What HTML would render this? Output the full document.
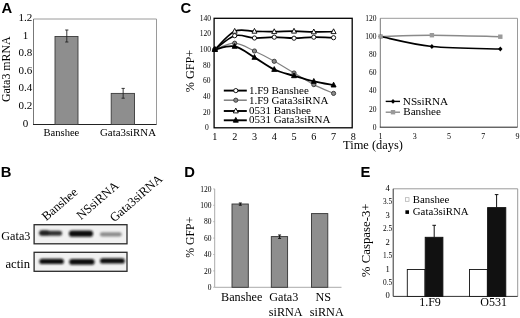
<!DOCTYPE html>
<html><head><meta charset="utf-8"><title>Figure</title>
<style>html,body{margin:0;padding:0;background:#fff}svg{display:block}</style>
</head><body>
<svg width="520" height="318" viewBox="0 0 520 318">
<rect width="520" height="318" fill="#fff"/>
<g font-family="Liberation Sans, sans-serif" font-weight="bold" font-size="14.8" fill="#000">
<text x="1.6" y="12.6" font-size="14.8" text-anchor="start" >A</text>
<text x="0.8" y="177.1" font-size="14.8" text-anchor="start" >B</text>
<text x="180.4" y="12.6" font-size="14.8" text-anchor="start" >C</text>
<text x="184.2" y="177.1" font-size="14.8" text-anchor="start" >D</text>
<text x="360.6" y="176.8" font-size="14.8" text-anchor="start" >E</text>
</g>
<g font-family="Liberation Serif, serif" fill="#000">
<path d="M33.5 19H156.5V124.5" fill="none" stroke="#9a9a9a" stroke-width="1"/>
<path d="M33.5 19V124.5" fill="none" stroke="#777" stroke-width="1"/>
<path d="M33.0 124.5H156.5" fill="none" stroke="#222" stroke-width="1"/>
<text x="25.4" y="126.6" font-size="11" text-anchor="middle" >0</text>
<text x="25.4" y="109.02" font-size="11" text-anchor="middle" >0.2</text>
<text x="25.4" y="91.43" font-size="11" text-anchor="middle" >0.4</text>
<text x="25.4" y="73.85" font-size="11" text-anchor="middle" >0.6</text>
<text x="25.4" y="56.27" font-size="11" text-anchor="middle" >0.8</text>
<text x="25.4" y="38.68" font-size="11" text-anchor="middle" >1</text>
<text x="25.4" y="21.1" font-size="11" text-anchor="middle" >1.2</text>
<rect x="55" y="36.5" width="23" height="88.0" fill="#8e8e8e" stroke="#3a3a3a" stroke-width="0.9"/>
<path d="M66.8 30V42M65.2 30h3.2M65.2 42h3.2" stroke="#222" stroke-width="0.9" fill="none"/>
<rect x="111.2" y="93.4" width="23.299999999999997" height="31.099999999999994" fill="#8e8e8e" stroke="#3a3a3a" stroke-width="0.9"/>
<path d="M123.14999999999999 88.4V98.2M121.55 88.4h3.2M121.55 98.2h3.2" stroke="#222" stroke-width="0.9" fill="none"/>
<text x="61.4" y="136.2" font-size="11" text-anchor="middle" textLength="35.8" lengthAdjust="spacingAndGlyphs">Banshee</text>
<text x="128" y="136.2" font-size="11" text-anchor="middle" textLength="56" lengthAdjust="spacingAndGlyphs">Gata3siRNA</text>
<text transform="translate(10.2,69.2) rotate(-90)" font-size="12" text-anchor="middle" textLength="65.7" lengthAdjust="spacingAndGlyphs">Gata3 mRNA</text>
<text transform="translate(46.2,221.3) rotate(-41)" font-size="12.6">Banshee</text>
<text transform="translate(81,220.3) rotate(-41)" font-size="12.6">NSsiRNA</text>
<text transform="translate(114.2,222.6) rotate(-41)" font-size="12.6">Gata3siRNA</text>
<text x="1.3" y="240" font-size="12.2" text-anchor="start" >Gata3</text>
<text x="5.5" y="267.8" font-size="12.4" text-anchor="start" textLength="24.6" lengthAdjust="spacingAndGlyphs">actin</text>
<defs><filter id="bl" x="-20%" y="-100%" width="140%" height="300%"><feGaussianBlur stdDeviation="0.9"/></filter></defs>
<rect x="34.1" y="224.7" width="92.90" height="19.10" fill="#f1f1f1" stroke="#2a2a2a" stroke-width="1.3"/>
<rect x="34.1" y="252.3" width="92.90" height="19.00" fill="#f1f1f1" stroke="#2a2a2a" stroke-width="1.3"/>
<g filter="url(#bl)" stroke-linecap="round" fill="none">
<path d="M41.8 233.2H59.6" stroke="#333" stroke-width="5"/><path d="M41.8 232.8H47" stroke="#222" stroke-width="5.2"/>
<path d="M72 233.7H90" stroke="#111" stroke-width="6.2"/>
<path d="M102 234.4H119.6" stroke="#8a8a8a" stroke-width="4.2"/>
<path d="M42 261.4H61.2" stroke="#111" stroke-width="5.4"/>
<path d="M72 261.9H91.8" stroke="#111" stroke-width="5.6"/>
<path d="M102.6 260.9H122.2" stroke="#111" stroke-width="5.2"/>
</g>
<text x="208.8" y="130.3" font-size="7.5" text-anchor="end" >0</text>
<text x="210.6" y="114.66" font-size="7.5" text-anchor="end" >20</text>
<text x="210.6" y="99.01" font-size="7.5" text-anchor="end" >40</text>
<text x="210.6" y="83.37" font-size="7.5" text-anchor="end" >60</text>
<text x="210.6" y="67.73" font-size="7.5" text-anchor="end" >80</text>
<text x="211" y="52.09" font-size="7.5" text-anchor="end" >100</text>
<text x="211" y="36.44" font-size="7.5" text-anchor="end" >120</text>
<text x="211" y="20.8" font-size="7.5" text-anchor="end" >140</text>
<text x="214.9" y="139.6" font-size="10.2" text-anchor="middle" >1</text>
<text x="234.68" y="139.6" font-size="10.2" text-anchor="middle" >2</text>
<text x="254.46" y="139.6" font-size="10.2" text-anchor="middle" >3</text>
<text x="274.24" y="139.6" font-size="10.2" text-anchor="middle" >4</text>
<text x="294.02" y="139.6" font-size="10.2" text-anchor="middle" >5</text>
<text x="313.8" y="139.6" font-size="10.2" text-anchor="middle" >6</text>
<text x="333.58" y="139.6" font-size="10.2" text-anchor="middle" >7</text>
<text x="353.36" y="139.6" font-size="10.2" text-anchor="middle" >8</text>
<path d="M214.90 49.50 C218.20 48.45 228.09 42.95 234.68 43.20 C241.27 43.45 247.87 47.98 254.46 51.00 C261.05 54.02 267.65 57.63 274.24 61.30 C280.83 64.97 287.43 69.12 294.02 73.00 C300.61 76.88 307.21 81.20 313.80 84.60 C320.39 88.00 330.28 91.93 333.58 93.40" fill="none" stroke="#808080" stroke-width="1.2"/>
<path d="M214.90 49.50 C218.20 47.20 228.09 37.62 234.68 35.70 C241.27 33.78 247.87 37.75 254.46 38.00 C261.05 38.25 267.65 37.17 274.24 37.20 C280.83 37.23 287.43 38.20 294.02 38.20 C300.61 38.20 307.21 37.28 313.80 37.20 C320.39 37.12 330.28 37.62 333.58 37.70" fill="none" stroke="#000" stroke-width="1.7"/>
<path d="M214.90 49.50 C218.20 46.47 228.09 34.33 234.68 31.30 C241.27 28.27 247.87 31.23 254.46 31.30 C261.05 31.37 267.65 31.72 274.24 31.70 C280.83 31.68 287.43 31.17 294.02 31.20 C300.61 31.23 307.21 31.82 313.80 31.90 C320.39 31.98 330.28 31.73 333.58 31.70" fill="none" stroke="#000" stroke-width="1.7"/>
<path d="M214.90 49.50 C218.20 48.98 228.09 45.08 234.68 46.40 C241.27 47.72 247.87 53.55 254.46 57.40 C261.05 61.25 267.65 66.43 274.24 69.50 C280.83 72.57 287.43 73.82 294.02 75.80 C300.61 77.78 307.21 79.85 313.80 81.40 C320.39 82.95 330.28 84.48 333.58 85.10" fill="none" stroke="#000" stroke-width="1.9"/>
<circle cx="214.90" cy="49.50" r="2.1" fill="#8a8a8a" stroke="#333" stroke-width="0.9"/>
<circle cx="234.68" cy="43.20" r="2.1" fill="#8a8a8a" stroke="#333" stroke-width="0.9"/>
<circle cx="254.46" cy="51.00" r="2.1" fill="#8a8a8a" stroke="#333" stroke-width="0.9"/>
<circle cx="274.24" cy="61.30" r="2.1" fill="#8a8a8a" stroke="#333" stroke-width="0.9"/>
<circle cx="294.02" cy="73.00" r="2.1" fill="#8a8a8a" stroke="#333" stroke-width="0.9"/>
<circle cx="313.80" cy="84.60" r="2.1" fill="#8a8a8a" stroke="#333" stroke-width="0.9"/>
<circle cx="333.58" cy="93.40" r="2.1" fill="#8a8a8a" stroke="#333" stroke-width="0.9"/>
<circle cx="214.90" cy="49.50" r="2.1" fill="#fff" stroke="#000" stroke-width="0.9"/>
<circle cx="234.68" cy="35.70" r="2.1" fill="#fff" stroke="#000" stroke-width="0.9"/>
<circle cx="254.46" cy="38.00" r="2.1" fill="#fff" stroke="#000" stroke-width="0.9"/>
<circle cx="274.24" cy="37.20" r="2.1" fill="#fff" stroke="#000" stroke-width="0.9"/>
<circle cx="294.02" cy="38.20" r="2.1" fill="#fff" stroke="#000" stroke-width="0.9"/>
<circle cx="313.80" cy="37.20" r="2.1" fill="#fff" stroke="#000" stroke-width="0.9"/>
<circle cx="333.58" cy="37.70" r="2.1" fill="#fff" stroke="#000" stroke-width="0.9"/>
<path d="M214.90 46.60L217.40 51.40H212.40Z" fill="#fff" stroke="#000" stroke-width="0.9"/>
<path d="M234.68 28.40L237.18 33.20H232.18Z" fill="#fff" stroke="#000" stroke-width="0.9"/>
<path d="M254.46 28.40L256.96 33.20H251.96Z" fill="#fff" stroke="#000" stroke-width="0.9"/>
<path d="M274.24 28.80L276.74 33.60H271.74Z" fill="#fff" stroke="#000" stroke-width="0.9"/>
<path d="M294.02 28.30L296.52 33.10H291.52Z" fill="#fff" stroke="#000" stroke-width="0.9"/>
<path d="M313.80 29.00L316.30 33.80H311.30Z" fill="#fff" stroke="#000" stroke-width="0.9"/>
<path d="M333.58 28.80L336.08 33.60H331.08Z" fill="#fff" stroke="#000" stroke-width="0.9"/>
<path d="M214.90 46.60L217.40 51.40H212.40Z" fill="#000" stroke="#000" stroke-width="0.9"/>
<path d="M234.68 43.50L237.18 48.30H232.18Z" fill="#000" stroke="#000" stroke-width="0.9"/>
<path d="M254.46 54.50L256.96 59.30H251.96Z" fill="#000" stroke="#000" stroke-width="0.9"/>
<path d="M274.24 66.60L276.74 71.40H271.74Z" fill="#000" stroke="#000" stroke-width="0.9"/>
<path d="M294.02 72.90L296.52 77.70H291.52Z" fill="#000" stroke="#000" stroke-width="0.9"/>
<path d="M313.80 78.50L316.30 83.30H311.30Z" fill="#000" stroke="#000" stroke-width="0.9"/>
<path d="M333.58 82.20L336.08 87.00H331.08Z" fill="#000" stroke="#000" stroke-width="0.9"/>
<rect x="214.1" y="18.3" width="138.1" height="109.5" fill="none" stroke="#000" stroke-width="1.3"/>
<path d="M223.8 90.6H246.8" stroke="#000" stroke-width="1.9"/>
<circle cx="235.80" cy="90.60" r="2.1" fill="#fff" stroke="#000" stroke-width="0.9"/>
<text x="248.9" y="94.1" font-size="11" text-anchor="start" >1.F9 Banshee</text>
<path d="M223.8 100.2H246.8" stroke="#777" stroke-width="1.4"/>
<circle cx="235.80" cy="100.20" r="2.1" fill="#8a8a8a" stroke="#333" stroke-width="0.9"/>
<text x="248.9" y="103.7" font-size="11" text-anchor="start" >1.F9 Gata3siRNA</text>
<path d="M223.8 111H246.8" stroke="#000" stroke-width="1.9"/>
<path d="M235.80 108.10L238.30 112.90H233.30Z" fill="#fff" stroke="#000" stroke-width="0.9"/>
<text x="248.9" y="114.0" font-size="11" text-anchor="start" >0531 Banshee</text>
<path d="M223.8 120.3H246.8" stroke="#000" stroke-width="1.9"/>
<path d="M235.80 117.40L238.30 122.20H233.30Z" fill="#000" stroke="#000" stroke-width="0.9"/>
<text x="248.9" y="123.3" font-size="11" text-anchor="start" >0531 Gata3siRNA</text>
<text transform="translate(194.3,71) rotate(-90)" font-size="12.2" text-anchor="middle" textLength="42.5" lengthAdjust="spacingAndGlyphs">% GFP+</text>
<text x="343.1" y="149.4" font-size="12.5" text-anchor="start" textLength="59.8" lengthAdjust="spacingAndGlyphs">Time (days)</text>
<path d="M380.3 18.3H517.5V127.2" fill="none" stroke="#9a9a9a" stroke-width="1"/>
<path d="M380.3 18.3V127.2" fill="none" stroke="#777" stroke-width="1"/>
<path d="M379.8 127.2H517.5" fill="none" stroke="#222" stroke-width="1"/>
<text x="376.4" y="129.7" font-size="7.5" text-anchor="end" >0</text>
<text x="376.4" y="111.55" font-size="7.5" text-anchor="end" >20</text>
<text x="376.4" y="93.4" font-size="7.5" text-anchor="end" >40</text>
<text x="376.4" y="75.25" font-size="7.5" text-anchor="end" >60</text>
<text x="376.4" y="57.1" font-size="7.5" text-anchor="end" >80</text>
<text x="376.4" y="38.95" font-size="7.5" text-anchor="end" >100</text>
<text x="376.4" y="20.8" font-size="7.5" text-anchor="end" >120</text>
<text x="380.6" y="139.1" font-size="8" text-anchor="middle" >1</text>
<text x="414.8" y="139.1" font-size="8" text-anchor="middle" >3</text>
<text x="449.0" y="139.1" font-size="8" text-anchor="middle" >5</text>
<text x="483.2" y="139.1" font-size="8" text-anchor="middle" >7</text>
<text x="517.4" y="139.1" font-size="8" text-anchor="middle" >9</text>
<path d="M380.60 36.50 C389.15 36.28 411.95 35.17 431.90 35.20 C451.85 35.23 488.90 36.45 500.30 36.70" fill="none" stroke="#8a8a8a" stroke-width="1.5"/>
<path d="M380.60 36.50 C389.15 38.17 411.95 44.42 431.90 46.50 C451.85 48.58 488.90 48.58 500.30 49.00" fill="none" stroke="#000" stroke-width="1.6"/>
<path d="M380.60 34.10L382.80 36.50L380.60 38.90L378.40 36.50Z" fill="#000"/>
<path d="M431.90 44.10L434.10 46.50L431.90 48.90L429.70 46.50Z" fill="#000"/>
<path d="M500.30 46.60L502.50 49.00L500.30 51.40L498.10 49.00Z" fill="#000"/>
<rect x="378.40" y="34.30" width="4.4" height="4.4" fill="#9a9a9a"/>
<rect x="429.70" y="33.00" width="4.4" height="4.4" fill="#9a9a9a"/>
<rect x="498.10" y="34.50" width="4.4" height="4.4" fill="#9a9a9a"/>
<path d="M385.7 101.4H400" stroke="#000" stroke-width="1.4"/>
<path d="M393.00 99.00L395.20 101.40L393.00 103.80L390.80 101.40Z" fill="#000"/>
<path d="M385.7 112.2H400" stroke="#8a8a8a" stroke-width="1.4"/>
<rect x="390.80" y="110.00" width="4.4" height="4.4" fill="#9a9a9a"/>
<text x="402.8" y="104.5" font-size="11.2" text-anchor="start" >NSsiRNA</text>
<text x="403.3" y="115.3" font-size="11.1" text-anchor="start" >Banshee</text>
<path d="M214.7 188.9V287.3H341.5" fill="none" stroke="#aaa" stroke-width="1"/>
<text x="211.6" y="289.9" font-size="7.5" text-anchor="end" >0</text>
<path d="M213.2 287.30h1.5" stroke="#aaa" stroke-width="0.8"/>
<text x="211.6" y="273.5" font-size="7.5" text-anchor="end" >20</text>
<path d="M213.2 270.90h1.5" stroke="#aaa" stroke-width="0.8"/>
<text x="211.6" y="257.1" font-size="7.5" text-anchor="end" >40</text>
<path d="M213.2 254.50h1.5" stroke="#aaa" stroke-width="0.8"/>
<text x="211.6" y="240.7" font-size="7.5" text-anchor="end" >60</text>
<path d="M213.2 238.10h1.5" stroke="#aaa" stroke-width="0.8"/>
<text x="211.6" y="224.3" font-size="7.5" text-anchor="end" >80</text>
<path d="M213.2 221.70h1.5" stroke="#aaa" stroke-width="0.8"/>
<text x="211.6" y="207.9" font-size="7.5" text-anchor="end" >100</text>
<path d="M213.2 205.30h1.5" stroke="#aaa" stroke-width="0.8"/>
<text x="211.6" y="191.5" font-size="7.5" text-anchor="end" >120</text>
<path d="M213.2 188.90h1.5" stroke="#aaa" stroke-width="0.8"/>
<rect x="232" y="204" width="16.30" height="83.30" fill="#8e8e8e" stroke="#333" stroke-width="0.9"/>
<rect x="271.3" y="236.6" width="16.30" height="50.70" fill="#8e8e8e" stroke="#333" stroke-width="0.9"/>
<rect x="311.5" y="213.6" width="16.30" height="73.70" fill="#8e8e8e" stroke="#333" stroke-width="0.9"/>
<path d="M240.3 203V205.2M238.8 203h3M238.8 205.2h3" stroke="#111" stroke-width="1" fill="none"/>
<path d="M279.6 235V238.4M278.1 235h3M278.1 238.4h3" stroke="#111" stroke-width="1" fill="none"/>
<text x="241.7" y="301.4" font-size="12.2" text-anchor="middle" >Banshee</text>
<text x="283.8" y="301.2" font-size="12.2" text-anchor="middle" >Gata3</text>
<text x="323.2" y="301.2" font-size="12.2" text-anchor="middle" >NS</text>
<text x="285.7" y="316" font-size="12.2" text-anchor="middle" >siRNA</text>
<text x="326.8" y="316" font-size="12.2" text-anchor="middle" >siRNA</text>
<text transform="translate(194,237.2) rotate(-90)" font-size="12" text-anchor="middle" textLength="40.9" lengthAdjust="spacingAndGlyphs">% GFP+</text>
<path d="M393.2 188.8H517.7V296.4" fill="none" stroke="#9a9a9a" stroke-width="1"/>
<path d="M393.2 188.8V296.4H517.7" fill="none" stroke="#333" stroke-width="1"/>
<text x="387.7" y="298.4" font-size="8.6" text-anchor="middle" >0</text>
<text x="387.7" y="284.95" font-size="8.6" text-anchor="middle" textLength="9.2" lengthAdjust="spacingAndGlyphs">0.5</text>
<text x="387.7" y="271.5" font-size="8.6" text-anchor="middle" >1</text>
<text x="387.7" y="258.05" font-size="8.6" text-anchor="middle" textLength="9.2" lengthAdjust="spacingAndGlyphs">1.5</text>
<text x="387.7" y="244.6" font-size="8.6" text-anchor="middle" >2</text>
<text x="387.7" y="231.15" font-size="8.6" text-anchor="middle" textLength="9.2" lengthAdjust="spacingAndGlyphs">2.5</text>
<text x="387.7" y="217.7" font-size="8.6" text-anchor="middle" >3</text>
<text x="387.7" y="204.25" font-size="8.6" text-anchor="middle" textLength="9.2" lengthAdjust="spacingAndGlyphs">3.5</text>
<text x="387.7" y="190.8" font-size="8.6" text-anchor="middle" >4</text>
<rect x="407.3" y="269.5" width="17.60" height="26.90" fill="#fff" stroke="#111" stroke-width="0.9"/>
<rect x="425.2" y="237.3" width="17.70" height="59.10" fill="#111" stroke="#111" stroke-width="0.9"/>
<rect x="469.5" y="269.5" width="17.80" height="26.90" fill="#fff" stroke="#111" stroke-width="0.9"/>
<rect x="487.6" y="207.6" width="18.20" height="88.80" fill="#111" stroke="#111" stroke-width="0.9"/>
<path d="M434.2 225.3V237.3M432.4 225.3h3.6" stroke="#111" stroke-width="1" fill="none"/>
<path d="M496.6 194.6V207.6M494.8 194.6h3.6" stroke="#111" stroke-width="1" fill="none"/>
<rect x="405.4" y="197.7" width="3.6" height="3.6" fill="#fff" stroke="#aaa" stroke-width="0.7"/>
<rect x="405.4" y="210.3" width="3.6" height="3.6" fill="#000"/>
<text x="412.8" y="202.7" font-size="10.8" text-anchor="start" >Banshee</text>
<text x="412.8" y="215.2" font-size="10.8" text-anchor="start" >Gata3siRNA</text>
<text x="430" y="306.3" font-size="12" text-anchor="middle" >1.F9</text>
<text x="493.7" y="306.3" font-size="12" text-anchor="middle" >O531</text>
<text transform="translate(369.6,240.3) rotate(-90)" font-size="12.6" text-anchor="middle" textLength="73.7" lengthAdjust="spacingAndGlyphs">% Caspase-3+</text>
</g>
</svg>
</body></html>
